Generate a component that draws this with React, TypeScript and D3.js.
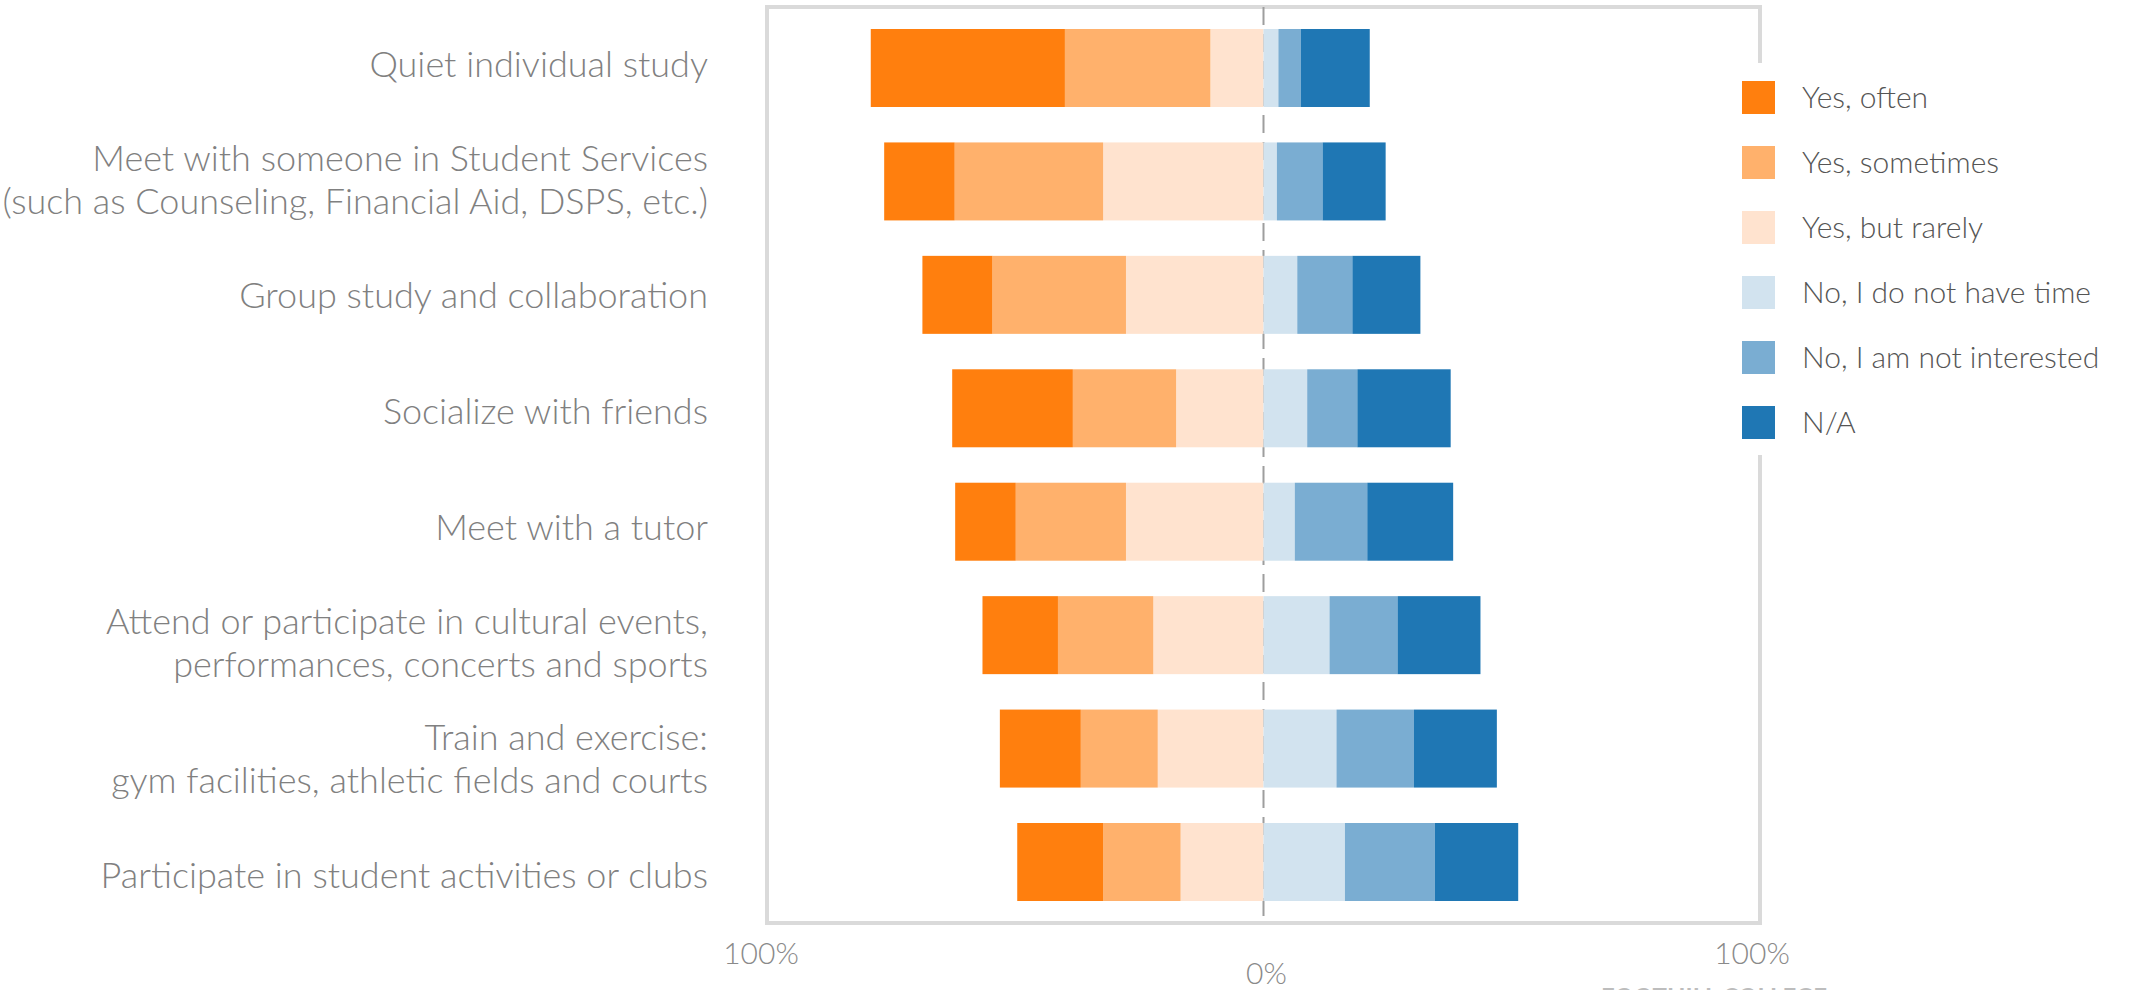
import React from "react";
import * as d3 from "d3";

const categories = [
  ["Quiet individual study"],
  ["Meet with someone in Student Services", "(such as Counseling, Financial Aid, DSPS, etc.)"],
  ["Group study and collaboration"],
  ["Socialize with friends"],
  ["Meet with a tutor"],
  ["Attend or participate in cultural events,", "performances, concerts and sports"],
  ["Train and exercise:", "gym facilities, athletic fields and courts"],
  ["Participate in student activities or clubs"],
];

const yesOften = [39.1, 14.2, 14.1, 24.3, 12.2, 15.2, 16.3, 17.3];
const yesSometimes = [29.3, 29.9, 26.9, 20.8, 22.2, 19.2, 15.5, 15.6];
const yesRarely = [10.7, 32.3, 27.7, 17.6, 27.7, 22.2, 21.3, 16.7];
const noTime = [3.0, 2.7, 6.8, 8.8, 6.3, 13.3, 14.7, 16.4];
const noInterest = [4.5, 9.2, 11.1, 10.1, 14.6, 13.7, 15.6, 18.1];
const notApplicable = [13.9, 12.7, 13.7, 18.8, 17.3, 16.7, 16.7, 16.8];

const seriesNames = [
  "Yes, often",
  "Yes, sometimes",
  "Yes, but rarely",
  "No, I do not have time",
  "No, I am not interested",
  "N/A",
];
const seriesColors = ["#ff7f0e", "#ffb16c", "#ffe3cf", "#d2e3ef", "#7aadd2", "#1f77b4"];
const axisTicks = [-100, 0, 100];

const W = 2133;
const H = 990;
const FONT = "Lato, 'Open Sans', sans-serif";

export default function App() {
  const x = d3.scaleLinear().domain([-100, 100]).range([767, 1760]);
  const idx = categories.map((_, i) => i);
  const y = d3.scalePoint<number>().domain(idx).range([68, 862]);
  const yLabel = d3.scalePoint<number>().domain(idx).range([64, 875]);
  const barH = 78;

  const negSeries = [yesRarely, yesSometimes, yesOften];
  const negColors = [seriesColors[2], seriesColors[1], seriesColors[0]];
  const posSeries = [noTime, noInterest, notApplicable];
  const posColors = [seriesColors[3], seriesColors[4], seriesColors[5]];

  const rects: any[] = [];
  idx.forEach((i) => {
    let acc = 0;
    negSeries.forEach((s, k) => {
      const x0 = x(-(acc + s[i]));
      const x1 = x(-acc);
      rects.push(
        <rect key={`n${i}-${k}`} x={x0} y={(y(i) as number) - barH / 2} width={x1 - x0} height={barH} fill={negColors[k]} />
      );
      acc += s[i];
    });
    acc = 0;
    posSeries.forEach((s, k) => {
      const x0 = x(acc);
      const x1 = x(acc + s[i]);
      rects.push(
        <rect key={`p${i}-${k}`} x={x0} y={(y(i) as number) - barH / 2} width={x1 - x0} height={barH} fill={posColors[k]} />
      );
      acc += s[i];
    });
  });

  const frameL = x(-100);
  const frameR = x(100);
  const frameT = 7;
  const frameB = 923;

  return (
    <svg
      width={W}
      height={H}
      style={{ position: "absolute", left: 0, top: 0, background: "#fff" }}
      fontFamily={FONT}
    >
      <rect x={0} y={0} width={W} height={H} fill="#fff" />
      <rect x={frameL} y={frameT} width={frameR - frameL} height={frameB - frameT} fill="none" stroke="#dadada" strokeWidth={4} />
      <line x1={x(0)} x2={x(0)} y1={frameT} y2={frameB} stroke="#9e9e9e" strokeWidth={2} strokeDasharray="18 9" />
      {rects}
      {categories.map((lines, i) => {
        const cy = yLabel(i) as number;
        const lh = 43;
        const start = cy - ((lines.length - 1) * lh) / 2;
        return (
          <text key={`c${i}`} x={708} textAnchor="end" fill="#808080" fontSize={36} fontWeight={300}>
            {lines.map((ln, j) => (
              <tspan key={j} x={708} y={start + j * lh} dy="0.35em">
                {ln}
              </tspan>
            ))}
          </text>
        );
      })}
      {axisTicks.map((t) => (
        <text
          key={`t${t}`}
          x={t === 0 ? x(t) + 3 : t < 0 ? x(t) - 6 : x(t) - 8}
          y={t === 0 ? 984 : 964}
          textAnchor="middle"
          fill="#8a8a8a"
          fontSize={30}
          fontWeight={300}
        >
          {`${Math.abs(t)}%`}
        </text>
      ))}
      <rect x={1715} y={63} width={418} height={392} fill="#fff" />
      {seriesNames.map((name, k) => (
        <g key={`l${k}`} transform={`translate(1742, ${81 + k * 65})`}>
          <rect x={0} y={0} width={33} height={33} fill={seriesColors[k]} />
          <text x={60} y={16.5} dy="0.36em" fill="#555" fontSize={30} fontWeight={300}>
            {name}
          </text>
        </g>
      ))}
      <text x={1601} y={1006} fill="#bdbdbd" fontSize={24}>
        <tspan fontWeight={700}>FOOTHILL COLLEGE</tspan>
        <tspan dx={8} fontSize={20}>| Foothill Student Survey of Campus Use, Fall</tspan>
      </text>
    </svg>
  );
}
